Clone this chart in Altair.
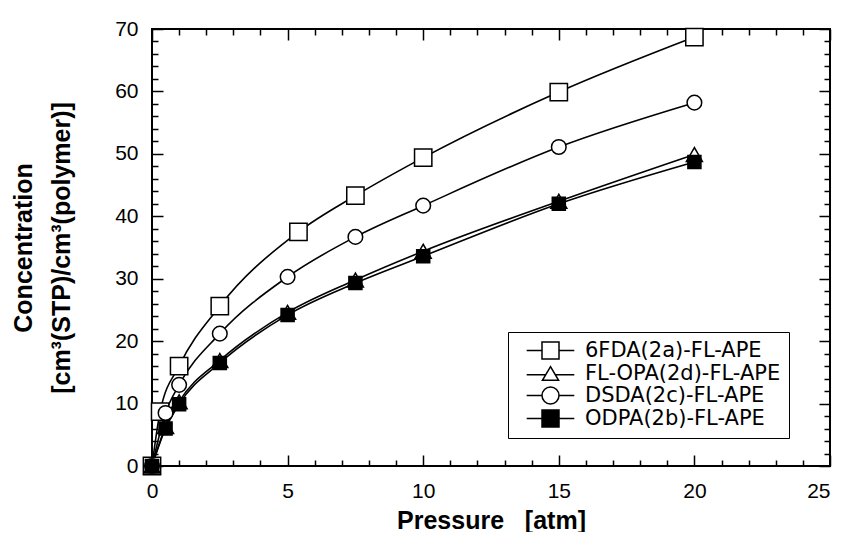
import altair as alt
import pandas as pd

# ---- data ----
series_names = ["6FDA(2a)-FL-APE", "FL-OPA(2d)-FL-APE", "DSDA(2c)-FL-APE", "ODPA(2b)-FL-APE"]

p_6fda = [0, 0.3, 1, 2.5, 5.4, 7.5, 10, 15, 20]
c_6fda = [0, 8.7, 16.0, 25.6, 37.5, 43.3, 49.4, 59.9, 68.7]

p_flopa = [0, 0.5, 1, 2.5, 5, 7.5, 10, 15, 20]
c_flopa = [0, 6.3, 10.3, 16.9, 24.6, 29.8, 34.4, 42.4, 49.9]

p_dsda = [0, 0.5, 1, 2.5, 5, 7.5, 10, 15, 20]
c_dsda = [0, 8.5, 13.0, 21.2, 30.3, 36.7, 41.7, 51.1, 58.2]

p_odpa = [0, 0.5, 1, 2.5, 5, 7.5, 10, 15, 20]
c_odpa = [0, 6.0, 9.9, 16.5, 24.2, 29.3, 33.6, 42.0, 48.7]

x_major = [0, 5, 10, 15, 20, 25]
x_minor = [v for v in range(0, 26) if v % 5 != 0]
y_major = [0, 10, 20, 30, 40, 50, 60, 70]
y_minor = [v for v in range(0, 71, 2) if v % 10 != 0]

rows = []
for name, ps, cs in zip(series_names, [p_6fda, p_flopa, p_dsda, p_odpa],
                        [c_6fda, c_flopa, c_dsda, c_odpa]):
    for p, c in zip(ps, cs):
        rows.append({"series": name, "p": p, "c": c})
df = pd.DataFrame(rows)

W, H = 678, 437
FONT = "Liberation Sans"

xs = alt.Scale(domain=[0, 25], nice=False, zero=False)
ys = alt.Scale(domain=[0, 70], nice=False, zero=False)


def tick_axis(orient, values, size, offset):
    return alt.Axis(orient=orient, values=values, tickSize=size, offset=offset,
                    labels=False, domain=False, title=None, grid=False,
                    ticks=True, tickColor="black", tickWidth=1.5)


main_x = alt.Axis(orient="bottom", values=x_major[:-1], ticks=False, domain=False, grid=False,
                  labelFont=FONT, labelFontSize=21, labelColor="black", labelPadding=14,
                  labelFlush=False, labelOverlap=False,
                  title="Pressure \u00a0\u00a0[atm]", titleFont=FONT, titleFontSize=25,
                  titleFontWeight="bold", titleColor="black", titlePadding=7)
last_x = alt.Axis(orient="bottom", values=x_major[-1:], ticks=False, domain=False, grid=False,
                  labelFont=FONT, labelFontSize=21, labelColor="black", labelPadding=14,
                  labelAlign="right", labelFlush=False, labelOverlap=False, title=None)
main_y = alt.Axis(orient="left", values=y_major, ticks=False, domain=False, grid=False,
                  labelFont=FONT, labelFontSize=21, labelColor="black", labelPadding=14,
                  labelFlush=False, labelOverlap=False,
                  title=["Concentration", "[cm\u00b3(STP)/cm\u00b3(polymer)]"],
                  titleFont=FONT, titleFontSize=25, titleFontWeight="bold",
                  titleColor="black", titleLineHeight=38, titlePadding=40)

base = alt.Chart(df)

lines = base.mark_line(interpolate="monotone", color="black", strokeWidth=1.6).encode(
    x=alt.X("p:Q", scale=xs, axis=main_x),
    y=alt.Y("c:Q", scale=ys, axis=main_y),
    detail="series:N",
)

points = base.mark_point(stroke="black", strokeWidth=1.5, opacity=1, fillOpacity=1).encode(
    x=alt.X("p:Q", scale=xs, axis=last_x),
    y=alt.Y("c:Q", scale=ys, axis=None),
    shape=alt.Shape("series:N", scale=alt.Scale(domain=series_names,
                    range=["square", "triangle-up", "circle", "square"]), legend=None),
    fill=alt.Fill("series:N", scale=alt.Scale(domain=series_names,
                  range=["white", "white", "white", "black"]), legend=None),
    size=alt.Size("series:O", scale=alt.Scale(domain=series_names,
                  range=[300, 170, 290, 300]), legend=None),
    order=alt.Order("order:Q"),
).transform_calculate(order="indexof(%s, datum.series)" % str(series_names))

leg_paths = [
    "M-2.8,0L-1,0M1,0L2.8,0M-1,-1L1,-1L1,1L-1,1Z",
    "M-2.8,0.15L-0.55,0.15M0.55,0.15L2.8,0.15M0,-0.8L0.95,0.8L-0.95,0.8Z",
    "M-2.8,0L-1,0M1,0L2.8,0M1,0A1,1,0,1,1,-1,0A1,1,0,1,1,1,0Z",
    "M-2.8,0L-1,0M1,0L2.8,0M-1,-1L1,-1L1,1L-1,1Z",
]
legend = alt.Legend(orient="none", legendX=356, legendY=303, title=None,
                    labelFont="DejaVu Sans", labelFontSize=21, labelColor="black",
                    labelLimit=400,
                    symbolSize=289, symbolStrokeColor="black", symbolStrokeWidth=1.5,
                    strokeColor="black", fillColor="white", padding=8, rowPadding=0,
                    symbolOffset=24, labelOffset=24)

legend_layer = base.transform_filter("false").mark_point(
    strokeWidth=1.5, opacity=1).encode(
    x=alt.X("p:Q", scale=xs, axis=None),
    y=alt.Y("c:Q", scale=ys, axis=None),
    shape=alt.Shape("series:N", scale=alt.Scale(domain=series_names, range=leg_paths),
                    legend=legend),
    fill=alt.Fill("series:N", scale=alt.Scale(domain=series_names,
                  range=["white", "white", "white", "black"]), legend=legend),
    stroke=alt.Stroke("series:N", scale=alt.Scale(domain=series_names,
                      range=["black", "black", "black", "black"]), legend=legend),
)

tick_major_a = base.mark_point(opacity=0).encode(
    x=alt.X("p:Q", scale=xs, axis=tick_axis("top", x_major, 11, -H)),
    y=alt.Y("c:Q", scale=ys, axis=tick_axis("right", y_major, 11, -W)),
)
tick_minor_a = base.mark_point(opacity=0).encode(
    x=alt.X("p:Q", scale=xs, axis=tick_axis("top", x_minor, 6, -H)),
    y=alt.Y("c:Q", scale=ys, axis=tick_axis("right", y_minor, 6, -W)),
)
tick_major_b = base.mark_point(opacity=0).encode(
    x=alt.X("p:Q", scale=xs, axis=tick_axis("bottom", x_major, 11, -H)),
    y=alt.Y("c:Q", scale=ys, axis=tick_axis("left", y_major, 11, -W)),
)
tick_minor_b = base.mark_point(opacity=0).encode(
    x=alt.X("p:Q", scale=xs, axis=tick_axis("bottom", x_minor, 6, -H)),
    y=alt.Y("c:Q", scale=ys, axis=tick_axis("left", y_minor, 6, -W)),
)

chart = alt.layer(
    lines, tick_major_a, tick_minor_a, tick_major_b, tick_minor_b, points, legend_layer
).resolve_scale(
    shape="independent", fill="independent", size="independent", stroke="independent"
).resolve_axis(
    x="independent", y="independent"
).properties(
    width=W, height=H,
    autosize=alt.AutoSizeParams(type="none"),
    padding={"left": 144, "top": 21, "right": 7, "bottom": 66},
    background="white",
).configure_view(stroke="black", strokeWidth=2)

chart.save("out.html", embed_options={"renderer": "svg", "actions": False})
